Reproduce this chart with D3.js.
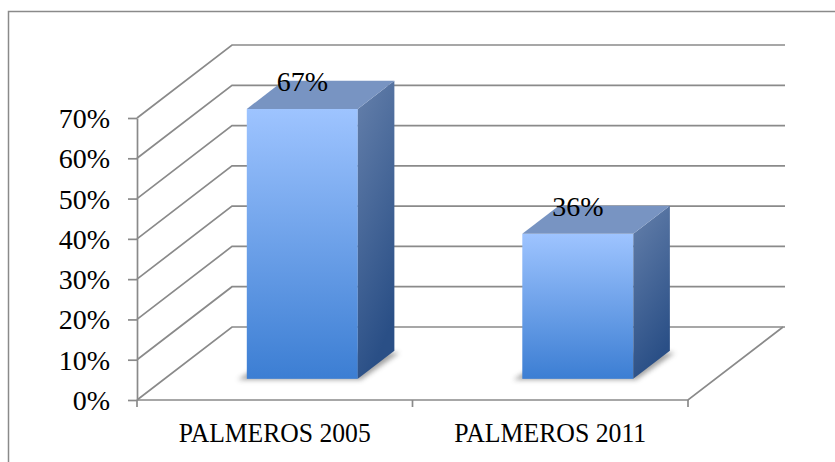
<!DOCTYPE html>
<html>
<head>
<meta charset="utf-8">
<style>
  body { margin: 0; background: #fff; }
  svg { font-family: "Liberation Serif", serif; }
  .lbl { font-size: 28px; fill: #000; }
</style>
</head>
<body>
<div id="chart"></div>
<script src="https://d3js.org/d3.v7.min.js"></script>
<script>

var categories = ["PALMEROS 2005", "PALMEROS 2011"];
var values = [0.67, 0.36];
var valueLabels = ["67%", "36%"];
var yTicks = [0, 0.1, 0.2, 0.3, 0.4, 0.5, 0.6, 0.7];

var width = 835, height = 462;
// depth of the 3d box (front -> back wall)
var depth = {dx: 95, dy: -73};
var barFront = 0.29, barBack = 0.675;   // bar position inside the depth

var svg = d3.select("#chart").append("svg")
    .attr("width", width)
    .attr("height", height);

var defs = svg.append("defs");

var gFront = defs.append("linearGradient").attr("id", "gFront")
    .attr("x1", 0).attr("y1", 0).attr("x2", 0).attr("y2", 1);
gFront.append("stop").attr("offset", "0%").attr("stop-color", "#9ec4ff");
gFront.append("stop").attr("offset", "100%").attr("stop-color", "#3c7ed3");

var gSide = defs.append("linearGradient").attr("id", "gSide")
    .attr("x1", 0).attr("y1", 0).attr("x2", 0.3).attr("y2", 1);
gSide.append("stop").attr("offset", "0%").attr("stop-color", "#6580ab");
gSide.append("stop").attr("offset", "100%").attr("stop-color", "#2a4f86");

defs.append("filter").attr("id", "blur")
    .attr("x", "-20%").attr("y", "-20%").attr("width", "140%").attr("height", "140%")
  .append("feGaussianBlur").attr("stdDeviation", 2.5);

// outer border (only top and left visible)
svg.append("rect")
    .attr("x", 8.5).attr("y", 11.5)
    .attr("width", 900).attr("height", 500)
    .attr("fill", "none")
    .attr("stroke", "#8a8a8a")
    .attr("stroke-width", 1.5);

var y = d3.scaleLinear().domain([0, 0.7]).range([400, 118]);
var x = d3.scaleBand().domain(categories).range([137, 688]);

var wallRight = 785;

// gridlines: left wall diagonal + back wall horizontal
svg.append("g").selectAll("path")
  .data(yTicks)
  .enter()
  .append("path")
    .attr("d", function(d) {
      return "M" + x.range()[0] + "," + y(d) +
             "L" + (x.range()[0] + depth.dx) + "," + (y(d) + depth.dy) +
             "L" + wallRight + "," + (y(d) + depth.dy);
    })
    .attr("fill", "none")
    .attr("stroke", "#8a8a8a")
    .attr("stroke-width", 1.7);

// floor front and right edges
svg.append("path")
    .attr("d", "M" + x.range()[0] + "," + y(0) +
               "L" + x.range()[1] + "," + y(0) +
               "L" + (x.range()[1] + depth.dx) + "," + (y(0) + depth.dy))
    .attr("fill", "none")
    .attr("stroke", "#8a8a8a")
    .attr("stroke-width", 1.7);

// category ticks at the band edges
var edges = categories.map(function(c) { return x(c); }).concat([x.range()[1]]);
svg.append("g").selectAll("line")
  .data(edges)
  .enter()
  .append("line")
    .attr("x1", function(d) { return d; })
    .attr("x2", function(d) { return d; })
    .attr("y1", y(0))
    .attr("y2", y(0) + 7)
    .attr("stroke", "#8a8a8a")
    .attr("stroke-width", 1.7);

// value axis
var yAxis = svg.append("g")
    .attr("transform", "translate(" + x.range()[0] + ",0)")
    .call(d3.axisLeft(y).tickValues(yTicks).tickFormat(d3.format(".0%"))
            .tickSize(9).tickSizeOuter(0).tickPadding(18));
yAxis.select(".domain").attr("stroke", "#8a8a8a").attr("stroke-width", 1.7);
yAxis.selectAll(".tick line").attr("stroke", "#8a8a8a").attr("stroke-width", 1.7);
yAxis.selectAll(".tick text")
    .attr("class", "lbl")
    .attr("font-family", "Liberation Serif")
    .attr("font-size", 28)
    .attr("dy", "0.34em");

// bars
var bw = 111;
var bars = categories.map(function(c, i) {
  var cx = x(c) + x.bandwidth() / 2 + depth.dx * barFront;
  var x0 = cx - bw / 2, x1 = cx + bw / 2;
  var yb = y(0) + depth.dy * barFront;
  var yt = y(values[i]) + depth.dy * barFront;
  var ddx = depth.dx * (barBack - barFront), ddy = depth.dy * (barBack - barFront);
  return {x0: x0, x1: x1, yb: yb, yt: yt, ddx: ddx, ddy: ddy, cx: cx, label: valueLabels[i]};
});

var gb = svg.append("g").selectAll("g").data(bars).enter().append("g");

// contact shadow
gb.append("path")
    .attr("d", function(b) {
      return "M" + (b.x0 - 9) + "," + (b.yb + 1) +
             "L" + (b.x1 + 3) + "," + (b.yb + 1) +
             "L" + (b.x1 + b.ddx + 5) + "," + (b.yb + b.ddy + 2) +
             "L" + (b.x0 + b.ddx) + "," + (b.yb + b.ddy) + "Z";
    })
    .attr("fill", "#555")
    .attr("opacity", 0.55)
    .attr("filter", "url(#blur)");

gb.append("rect")
    .attr("x", function(b) { return b.x0; })
    .attr("y", function(b) { return b.yt; })
    .attr("width", function(b) { return b.x1 - b.x0; })
    .attr("height", function(b) { return b.yb - b.yt; })
    .attr("fill", "url(#gFront)");

gb.append("path")
    .attr("d", function(b) {
      return "M" + b.x1 + "," + b.yb +
             "L" + b.x1 + "," + b.yt +
             "L" + (b.x1 + b.ddx) + "," + (b.yt + b.ddy) +
             "L" + (b.x1 + b.ddx) + "," + (b.yb + b.ddy) + "Z";
    })
    .attr("fill", "url(#gSide)");

gb.append("path")
    .attr("d", function(b) {
      return "M" + b.x0 + "," + b.yt +
             "L" + b.x1 + "," + b.yt +
             "L" + (b.x1 + b.ddx) + "," + (b.yt + b.ddy) +
             "L" + (b.x0 + b.ddx) + "," + (b.yt + b.ddy) + "Z";
    })
    .attr("fill", "#7894c2");

gb.append("text")
    .attr("class", "lbl")
    .attr("x", function(b) { return b.cx; })
    .attr("y", function(b) { return b.yt + b.ddy + 10.5; })
    .attr("text-anchor", "middle")
    .text(function(b) { return b.label; });

// category labels
svg.append("g").selectAll("text")
  .data(categories)
  .enter()
  .append("text")
    .attr("class", "lbl")
    .attr("x", function(d) { return x(d) + x.bandwidth() / 2; })
    .attr("y", 442)
    .attr("text-anchor", "middle")
    .attr("textLength", 192)
    .attr("lengthAdjust", "spacingAndGlyphs")
    .text(function(d) { return d; });

</script>
</body>
</html>
